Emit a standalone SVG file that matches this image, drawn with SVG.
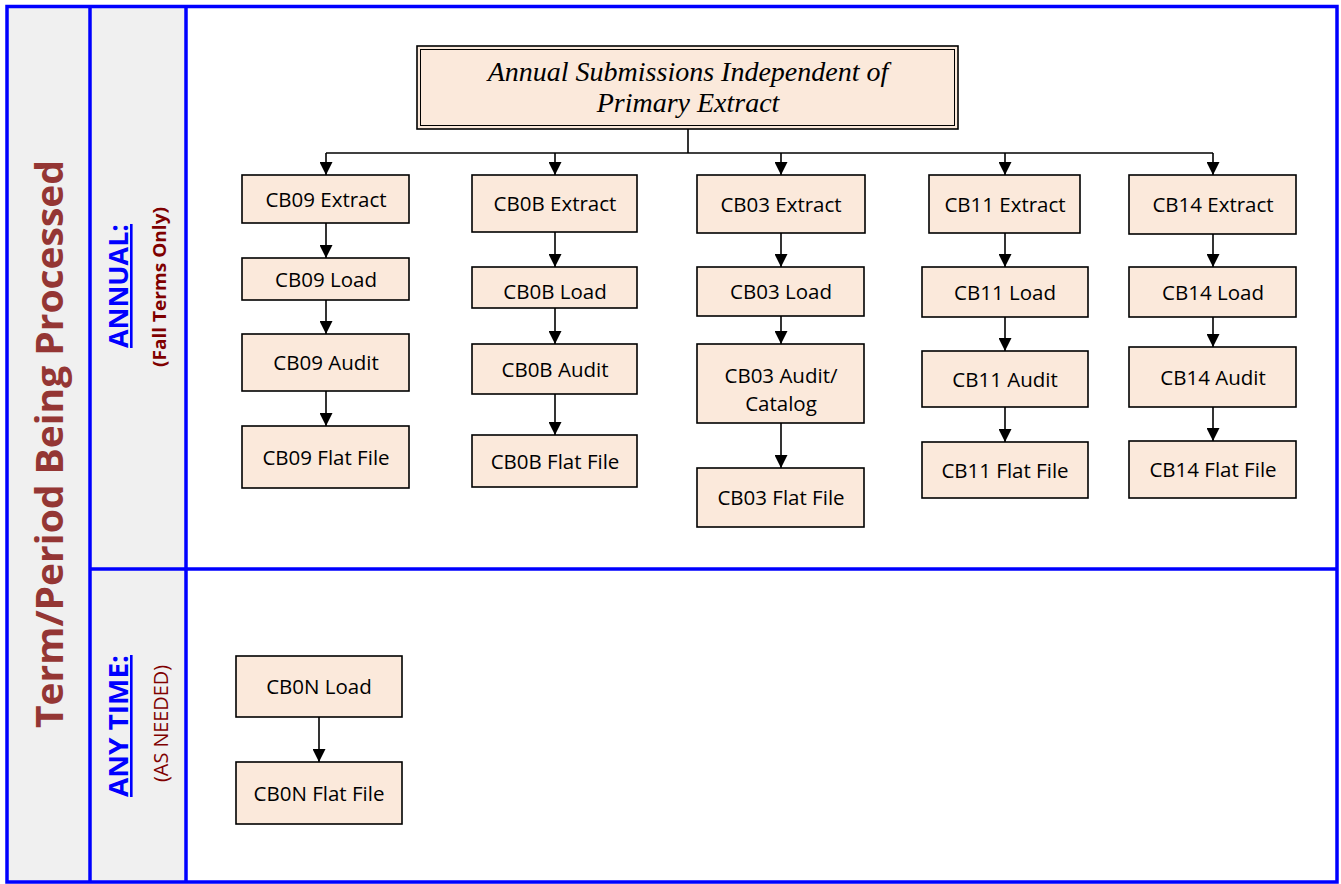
<svg xmlns="http://www.w3.org/2000/svg" width="1341" height="884" viewBox="0 0 1341 884">
  <style>
    .lane { fill: #f0f0f0; }
    .rule { stroke: #0000ff; stroke-width: 3.5; fill: none; }
    .node rect { fill: #fbe9db; stroke: #000; stroke-width: 1.6; }
    .node text { font-family: "Open Sans", "Liberation Sans", sans-serif; font-size: 20.5px; fill: #000; text-anchor: middle; }
    .edge { stroke: #000; stroke-width: 1.6; fill: none; }
    .arrow { marker-end: url(#head); }
    .head-title { font-family: "Liberation Serif", "Times New Roman", serif; font-style: italic; font-size: 28px; fill: #000; text-anchor: middle; }
    .lbl { text-anchor: middle; font-family: "Open Sans", "Liberation Sans", sans-serif; }
  </style>
  <defs>
    <marker id="head" viewBox="0 0 13 13" markerWidth="13" markerHeight="13" refX="13" refY="6.5" orient="auto" markerUnits="userSpaceOnUse">
      <path d="M0,0 L13,6.5 L0,13 Z" fill="#000"/>
    </marker>
  </defs>

  <rect width="1341" height="884" fill="#fff"/>

  <!-- side lanes -->
  <rect class="lane" x="7" y="6.5" width="179" height="875.5"/>

  <!-- lane labels -->
  <text class="lbl" transform="translate(63,444) rotate(-90)" font-size="38" font-weight="bold" fill="#943634" textLength="568" lengthAdjust="spacingAndGlyphs">Term/Period Being Processed</text>
  <text class="lbl" transform="translate(128,286) rotate(-90)" font-size="26" font-weight="bold" fill="#0000ff" text-decoration="underline" textLength="124" lengthAdjust="spacingAndGlyphs">ANNUAL:</text>
  <text class="lbl" transform="translate(166,287) rotate(-90)" font-family="Lato, 'Open Sans', sans-serif" font-size="17.5" font-weight="bold" fill="#7f0000" textLength="160" lengthAdjust="spacingAndGlyphs">(Fall Terms Only)</text>
  <text class="lbl" transform="translate(128,726) rotate(-90)" font-size="26" font-weight="bold" fill="#0000ff" text-decoration="underline" textLength="142" lengthAdjust="spacingAndGlyphs">ANY TIME:</text>
  <text class="lbl" transform="translate(168,723.5) rotate(-90)" font-size="19.5" fill="#7f0000" textLength="117" lengthAdjust="spacingAndGlyphs">(AS NEEDED)</text>

  <!-- frame and dividers -->
  <g id="frame">
    <rect class="rule" x="7" y="6.5" width="1330" height="875.5"/>
    <line class="rule" x1="90" y1="6.5" x2="90" y2="882"/>
    <line class="rule" x1="186" y1="6.5" x2="186" y2="882"/>
    <line class="rule" x1="90" y1="569" x2="1337" y2="569"/>
  </g>

  <!-- header -->
  <g id="header">
    <rect x="417" y="46" width="541" height="83" fill="#fbe9db" stroke="#000" stroke-width="1.6"/>
    <rect x="420.5" y="49.5" width="534" height="76" fill="none" stroke="#000" stroke-width="1"/>
    <text class="head-title" x="688" y="81">Annual Submissions Independent of</text>
    <text class="head-title" x="688" y="112">Primary Extract</text>
  </g>

  <!-- connectors -->
  <g id="connectors">
    <polyline class="edge" points="688,129 688,153"/>
    <polyline class="edge" points="326,153 1213,153"/>
    <line class="edge arrow" x1="326" y1="153" x2="326" y2="175"/>
    <line class="edge arrow" x1="555" y1="153" x2="555" y2="175"/>
    <line class="edge arrow" x1="781" y1="153" x2="781" y2="175"/>
    <line class="edge arrow" x1="1005" y1="153" x2="1005" y2="175"/>
    <line class="edge arrow" x1="1213" y1="153" x2="1213" y2="175"/>

    <line class="edge arrow" x1="326" y1="223" x2="326" y2="258"/>
    <line class="edge arrow" x1="326" y1="300" x2="326" y2="334"/>
    <line class="edge arrow" x1="326" y1="391" x2="326" y2="426"/>

    <line class="edge arrow" x1="555" y1="232" x2="555" y2="267"/>
    <line class="edge arrow" x1="555" y1="308" x2="555" y2="344"/>
    <line class="edge arrow" x1="555" y1="394" x2="555" y2="435"/>

    <line class="edge arrow" x1="781" y1="233" x2="781" y2="267"/>
    <line class="edge arrow" x1="781" y1="316" x2="781" y2="344"/>
    <line class="edge arrow" x1="781" y1="423" x2="781" y2="468"/>

    <line class="edge arrow" x1="1005" y1="233" x2="1005" y2="267"/>
    <line class="edge arrow" x1="1005" y1="317" x2="1005" y2="351"/>
    <line class="edge arrow" x1="1005" y1="407" x2="1005" y2="442"/>

    <line class="edge arrow" x1="1213" y1="234" x2="1213" y2="267"/>
    <line class="edge arrow" x1="1213" y1="317" x2="1213" y2="347"/>
    <line class="edge arrow" x1="1213" y1="407" x2="1213" y2="441"/>

    <line class="edge arrow" x1="319" y1="717" x2="319" y2="762"/>
  </g>

  <!-- CB09 -->
  <g id="cb09-extract" class="node"><rect x="242" y="175" width="167" height="48"/><text x="326" y="206.5">CB09 Extract</text></g>
  <g id="cb09-load" class="node"><rect x="242" y="258" width="167" height="42"/><text x="326" y="286.5">CB09 Load</text></g>
  <g id="cb09-audit" class="node"><rect x="242" y="334" width="167" height="57"/><text x="326" y="370">CB09 Audit</text></g>
  <g id="cb09-flat" class="node"><rect x="242" y="426" width="167" height="62"/><text x="326" y="464.5">CB09 Flat File</text></g>

  <!-- CB0B -->
  <g id="cb0b-extract" class="node"><rect x="472" y="175" width="165" height="57"/><text x="555" y="211">CB0B Extract</text></g>
  <g id="cb0b-load" class="node"><rect x="472" y="267" width="165" height="41"/><text x="555" y="298.5">CB0B Load</text></g>
  <g id="cb0b-audit" class="node"><rect x="472" y="344" width="165" height="50"/><text x="555" y="376.5">CB0B Audit</text></g>
  <g id="cb0b-flat" class="node"><rect x="472" y="435" width="165" height="52"/><text x="555" y="468.5">CB0B Flat File</text></g>

  <!-- CB03 -->
  <g id="cb03-extract" class="node"><rect x="697" y="175" width="168" height="58"/><text x="781" y="211.5">CB03 Extract</text></g>
  <g id="cb03-load" class="node"><rect x="697" y="267" width="167" height="49"/><text x="781" y="299">CB03 Load</text></g>
  <g id="cb03-audit" class="node"><rect x="697" y="344" width="167" height="79"/><text x="781" y="383">CB03 Audit/</text><text x="781" y="411">Catalog</text></g>
  <g id="cb03-flat" class="node"><rect x="697" y="468" width="167" height="59"/><text x="781" y="505">CB03 Flat File</text></g>

  <!-- CB11 -->
  <g id="cb11-extract" class="node"><rect x="929" y="175" width="151" height="58"/><text x="1005" y="211.5">CB11 Extract</text></g>
  <g id="cb11-load" class="node"><rect x="922" y="267" width="166" height="50"/><text x="1005" y="299.5">CB11 Load</text></g>
  <g id="cb11-audit" class="node"><rect x="922" y="351" width="166" height="56"/><text x="1005" y="386.5">CB11 Audit</text></g>
  <g id="cb11-flat" class="node"><rect x="922" y="442" width="166" height="56"/><text x="1005" y="477.5">CB11 Flat File</text></g>

  <!-- CB14 -->
  <g id="cb14-extract" class="node"><rect x="1129" y="175" width="167" height="59"/><text x="1213" y="212">CB14 Extract</text></g>
  <g id="cb14-load" class="node"><rect x="1129" y="267" width="167" height="50"/><text x="1213" y="299.5">CB14 Load</text></g>
  <g id="cb14-audit" class="node"><rect x="1129" y="347" width="167" height="60"/><text x="1213" y="384.5">CB14 Audit</text></g>
  <g id="cb14-flat" class="node"><rect x="1129" y="441" width="167" height="57"/><text x="1213" y="477">CB14 Flat File</text></g>

  <!-- CB0N -->
  <g id="cb0n-load" class="node"><rect x="236" y="656" width="166" height="61"/><text x="319" y="694">CB0N Load</text></g>
  <g id="cb0n-flat" class="node"><rect x="236" y="762" width="166" height="62"/><text x="319" y="800.5">CB0N Flat File</text></g>
</svg>
